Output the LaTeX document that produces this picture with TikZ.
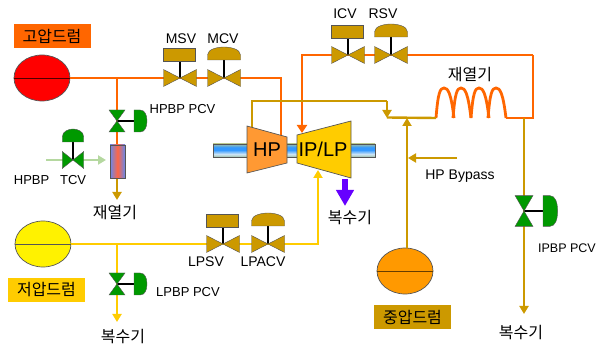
\documentclass[tikz,border=0pt]{standalone}
\usepackage{fontspec}
\setmainfont{Liberation Sans}
\newfontfamily\krfont{Noto Sans CJK KR}
\usetikzlibrary{arrows.meta,positioning,shapes}
\definecolor{hpcol}{HTML}{FF6600}
\definecolor{goldcol}{HTML}{CC9900}
\definecolor{lpcol}{HTML}{FFCC00}
\definecolor{ipcol}{HTML}{FF9900}
\definecolor{hpbody}{HTML}{FF9933}
\definecolor{valvegreen}{HTML}{009900}
\definecolor{steamgreen}{HTML}{B5D8A0}
\definecolor{edgecol}{HTML}{555555}
\definecolor{purplecol}{HTML}{6600FF}
\definecolor{shaftgrey}{HTML}{9DBFA8}
\definecolor{shaftpale}{HTML}{CFE6F5}
\definecolor{shaftblue}{HTML}{3399FF}
\definecolor{tubeblue}{HTML}{6688EE}
\definecolor{tubehot}{HTML}{FF6644}
\pgfdeclareverticalshading{shaftshade}{100bp}{color(0bp)=(shaftgrey); color(25bp)=(shaftgrey); color(36bp)=(shaftpale); color(52bp)=(shaftblue); color(62bp)=(shaftblue); color(75bp)=(shaftgrey); color(100bp)=(shaftgrey)}
\pgfdeclarehorizontalshading{tubeshade}{100bp}{color(0bp)=(tubeblue); color(25bp)=(tubeblue); color(50bp)=(tubehot); color(75bp)=(tubeblue); color(100bp)=(tubeblue)}
\tikzset{
  drum/.style={draw=edgecol,ellipse,minimum width=56pt,minimum height=46pt,inner sep=0pt,line width=.7pt},
  kr/.style={font=\krfont\fontsize{16}{16}\selectfont,inner sep=0pt},
  tag/.style={font=\fontsize{14}{14}\selectfont,inner sep=0pt},
  pcvtag/.style={font=\fontsize{13}{13}\selectfont,inner sep=0pt},
  drumtag/.style={kr,minimum width=77pt,minimum height=24pt},
  hpline/.style={draw=hpcol,line width=2.8pt},
  goldline/.style={draw=goldcol,line width=2.4pt},
  lpline/.style={draw=lpcol,line width=2.6pt},
  stem/.style={draw=black,line width=1.4pt},
  boxvalve/.pic={
    \draw[stem] (0,0) -- (0,-18);
    \draw[pic actions] (-17,-30) rectangle (15,-17);
    \draw[pic actions] (-16.5,-8.5) -- (16.5,8.5) -- (16.5,-8.5) -- (-16.5,8.5) -- cycle;
  },
  domevalve/.pic={
    \draw[stem] (0,0) -- (0,-18);
    \draw[pic actions] (-16.5,-18) -- (16.5,-18) -- (16.5,-23) .. controls (16.5,-29) and (6,-31) .. (0,-31) .. controls (-6,-31) and (-16.5,-29) .. (-16.5,-23) -- cycle;
    \draw[pic actions] (-16.5,-8.5) -- (16.5,8.5) -- (16.5,-8.5) -- (-16.5,8.5) -- cycle;
  },
  sidevalve/.pic={
    \draw[stem] (0,0) -- (18,0);
    \draw[pic actions] (17,-11) -- (23,-11) .. controls (28,-11) and (30,-6) .. (30,0) .. controls (30,6) and (28,11) .. (23,11) -- (17,11) -- cycle;
    \draw[pic actions] (-8,-11) -- (8,-11) -- (-8,11) -- (8,11) -- cycle;
  }
}
\begin{document}
\begin{tikzpicture}[x=1pt,y=-1pt]
\useasboundingbox (0,0) rectangle (608,347);
\node[drum,fill=red] (hpdrum) at (42,78) {};
\node[drum,fill=yellow] (lpdrum) at (43,244) {};
\node[drum,fill=ipcol] (ipdrum) at (405,271) {};
\draw[draw=black!70!red,line width=.8pt] (hpdrum.west) -- (hpdrum.east);
\draw[draw=edgecol,line width=.8pt] (lpdrum.west) -- (lpdrum.east);
\draw[draw=black!60!ipcol,line width=.8pt] (ipdrum.west) -- (ipdrum.east);
\node[drumtag,fill=hpcol] (hptag) at (52,36) {고압드럼};
\node[drumtag,fill=lpcol] (lptag) at (46.5,290) {저압드럼};
\node[drumtag,fill=goldcol] (iptag) at (412.5,317) {중압드럼};
\coordinate (hpjoin) at (117,78);
\coordinate (msv) at (180,78);
\coordinate (mcv) at (224,78);
\coordinate (hpin) at (281,134);
\coordinate (ipin) at (302,133);
\coordinate (icv) at (348,55);
\coordinate (rsv) at (391,55);
\coordinate (rhcorner) at (533,55);
\coordinate (coilout) at (506,118);
\coordinate (coilin) at (436,118);
\coordinate (rhjoin) at (524,118);
\coordinate (hppcv) at (117,121);
\coordinate (tcv) at (73,160);
\coordinate (tcvin) at (46,160);
\coordinate (tcvout) at (106,160);
\coordinate (lpjoin) at (117,244);
\coordinate (lppcv) at (117,284);
\coordinate (lpsv) at (223,244);
\coordinate (lpacv) at (268,244);
\coordinate (lpin) at (318,170);
\coordinate (hpout) at (252,127);
\coordinate (coldend) at (387,118);
\coordinate (bypass) at (407,118);
\coordinate (bypassin) at (457,158);
\coordinate (bypasshit) at (408,158);
\coordinate (ippcv) at (524,211);
\coordinate (ipdump) at (524,314);
\coordinate (lpdump) at (117,322);
\coordinate (tubeout) at (117,200);
\node[draw=edgecol,shading=shaftshade,minimum width=162pt,minimum height=13pt,inner sep=0pt] (shaft) at (294,150.5) {};
\draw[hpline] (hpdrum.east) -- (hpjoin) -- (msv) -- (mcv) -| ([yshift=-6pt]hpin);
\draw[hpline,-{Triangle[width=10pt,length=8pt]}] ([yshift=-8pt]hpin) -- (hpin);
\draw[hpline,-{Triangle[width=10pt,length=8pt]}] (rhcorner) -- (icv) -| (ipin);
\draw[hpline] (rhcorner) -- (rhcorner |- coilout) -- (coilout);
\foreach \x in {436,453,471,488}
  \draw[hpline] (\x,118) .. controls (\x+2,93) and (\x+4,88) .. (\x+8,88) .. controls (\x+12,88) and (\x+15,93) .. (\x+18,118);
\draw[hpline,line width=2.4pt] (hpjoin) -- (hppcv) -- (117,146);
\draw[goldline,-{Triangle[width=9pt,length=8pt]}] (117,178) -- (tubeout);
\node[draw=edgecol,shading=tubeshade,minimum width=15pt,minimum height=33pt,inner sep=0pt] (tube) at (117.5,161.5) {};
\draw[draw=steamgreen,line width=2.4pt,-{Triangle[width=9pt,length=8pt]}] (tcvin) -- (tcvout);
\draw[lpline] (lpdrum.east) -- (lpjoin) -- (lpsv) -- (lpacv) -- (318,244) -- (318,178);
\draw[lpline,-{Triangle[width=9pt,length=8pt]}] (318,180) -- (lpin);
\draw[lpline,-{Triangle[width=9pt,length=8pt]}] (lpjoin) -- (lppcv) -- (lpdump);
\draw[goldline] (hpout) |- (387,101);
\draw[goldline,-{Triangle[width=9pt,length=8pt]}] (387,101) -- (coldend);
\draw[goldline] (387,117.5) -- (coilin);
\draw[goldline,-{Triangle[width=9pt,length=8pt]}] (ipdrum.north -| bypass) -- (bypass);
\draw[goldline,-{Triangle[width=9pt,length=8pt]}] (bypassin) -- (bypasshit);
\draw[goldline,-{Triangle[width=9pt,length=8pt]}] (rhjoin) -- (ippcv) -- (ipdump);
\draw[draw=edgecol,fill=hpbody,line width=.7pt] (247,126) -- (287,137) -- (287,163) -- (247,173) -- cycle;
\draw[draw=edgecol,fill=lpcol,line width=.7pt] (297,135) -- (351,121) -- (351,178) -- (297,163) -- cycle;
\node[font=\fontsize{20}{20}\selectfont,inner sep=0pt] (hp) at (267,150) {HP};
\node[font=\fontsize{20}{20}\selectfont,inner sep=0pt] (iplp) at (323,149) {IP/LP};
\coordinate (condfrom) at (345,179);
\coordinate (condto) at (345,206);
\draw[draw=purplecol,line width=6pt,-{Triangle[width=17pt,length=16pt]}] (condfrom) -- (condto);
\pic[draw=edgecol,fill=goldcol] at (msv) {boxvalve};
\pic[draw=edgecol,fill=goldcol] at (mcv) {domevalve};
\pic[draw=edgecol,fill=goldcol] at (icv) {boxvalve};
\pic[draw=edgecol,fill=goldcol] at (rsv) {domevalve};
\pic[draw=edgecol,fill=goldcol] at (lpsv) {boxvalve};
\pic[draw=edgecol,fill=goldcol] at (lpacv) {domevalve};
\pic[draw=edgecol,fill=valvegreen,xscale=.65] at (tcv) {domevalve};
\pic[draw=edgecol,fill=valvegreen] at (hppcv) {sidevalve};
\pic[draw=edgecol,fill=valvegreen] at (lppcv) {sidevalve};
\pic[draw=edgecol,fill=valvegreen,xscale=1.12,yscale=1.4] at (ippcv) {sidevalve};
\node[tag] (msvtag) at (181,39) {MSV};
\node[tag] (mcvtag) at (223,39) {MCV};
\node[tag] (icvtag) at (345,14) {ICV};
\node[tag] (rsvtag) at (383,14) {RSV};
\node[pcvtag] (hppcvtag) at (182.5,109) {HPBP PCV};
\node[pcvtag] (tcvtag) at (50,180) {HPBP\ \ \ TCV};
\node[tag] (lpsvtag) at (206,262) {LPSV};
\node[tag] (lpacvtag) at (263,262) {LPACV};
\node[pcvtag] (lppcvtag) at (188,292) {LPBP PCV};
\node[pcvtag,font=\fontsize{12.5}{13}\selectfont] (ippcvtag) at (567,248) {IPBP PCV};
\node[tag] (bypasstag) at (460,176) {HP Bypass};
\node[kr] (coiltag) at (470,75) {재열기};
\node[kr] (tubetag) at (115,213) {재열기};
\node[kr] (lpcond) at (123,337) {복수기};
\node[kr] (midcond) at (350,218) {복수기};
\node[kr] (ipcond) at (521,333) {복수기};
\end{tikzpicture}
\end{document}
